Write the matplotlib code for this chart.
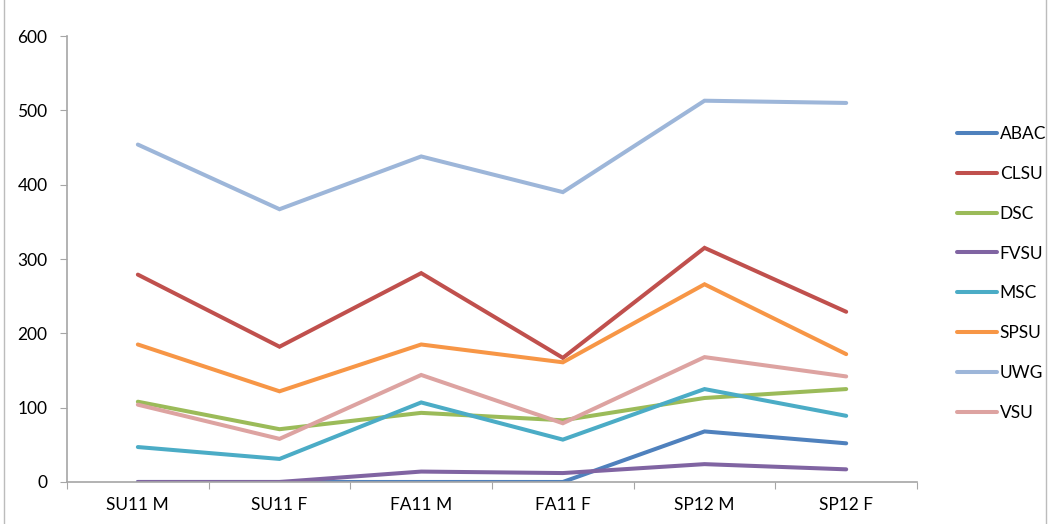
import matplotlib.pyplot as plt
from matplotlib.patches import Rectangle

plt.rcParams['font.family'] = ['Lato', 'DejaVu Sans']

terms = ['SU11 M', 'SU11 F', 'FA11 M', 'FA11 F', 'SP12 M', 'SP12 F']
abac = [0, 0, 0, 0, 68, 52]
clsu = [279, 182, 281, 167, 315, 229]
dsc = [108, 71, 93, 83, 113, 125]
fvsu = [0, 0, 14, 12, 24, 17]
msc = [47, 31, 107, 57, 125, 89]
spsu = [185, 122, 185, 161, 266, 172]
uwg = [454, 367, 438, 390, 513, 510]
vsu = [104, 58, 144, 79, 168, 142]

names = ['ABAC', 'CLSU', 'DSC', 'FVSU', 'MSC', 'SPSU', 'UWG', 'VSU']
series = [abac, clsu, dsc, fvsu, msc, spsu, uwg, vsu]
colors = ['#4F81BD', '#C0504D', '#9BBB59', '#8064A2', '#4BACC6', '#F79646', '#9DB6D9', '#DDA3A1']

fig = plt.figure(figsize=(10.52, 5.24), dpi=100)
ax = fig.add_axes([0.0637, 0.0802, 0.808, 0.851])

xs = list(range(len(terms)))
for name, vals, c in zip(names, series, colors):
    ax.plot(xs, vals, color=c, lw=2.9, label=name, solid_capstyle='round', solid_joinstyle='miter')

ax.set_xlim(-0.5, 5.5)
ax.set_ylim(0, 600)
ax.set_yticks(range(0, 601, 100))
ax.set_xticks([i - 0.5 for i in range(len(terms) + 1)])
ax.set_xticklabels([])
ax.set_xticks(xs, minor=True)
ax.set_xticklabels(terms, minor=True)
ax.tick_params(axis='x', which='minor', length=0, pad=11, labelsize=12.5)
ax.tick_params(axis='x', which='major', length=5, color='#a6a6a6', direction='out')
ax.tick_params(axis='y', length=5, color='#a6a6a6', labelsize=12.5, pad=9)
for s in ['top', 'right']:
    ax.spines[s].set_visible(False)
for s in ['left', 'bottom']:
    ax.spines[s].set_color('#a6a6a6')
    ax.spines[s].set_linewidth(1.2)

leg = fig.legend(loc='upper left', bbox_to_anchor=(0.895, 0.79), frameon=False,
                 fontsize=12.5, handlelength=2.3, handletextpad=0.15, labelspacing=1.38)

fig.patches.append(Rectangle((0.004, -0.01), 0.99, 1.05, transform=fig.transFigure,
                             fill=False, edgecolor='#bcbcbc', lw=1))

fig.savefig('out.png', dpi=100)
